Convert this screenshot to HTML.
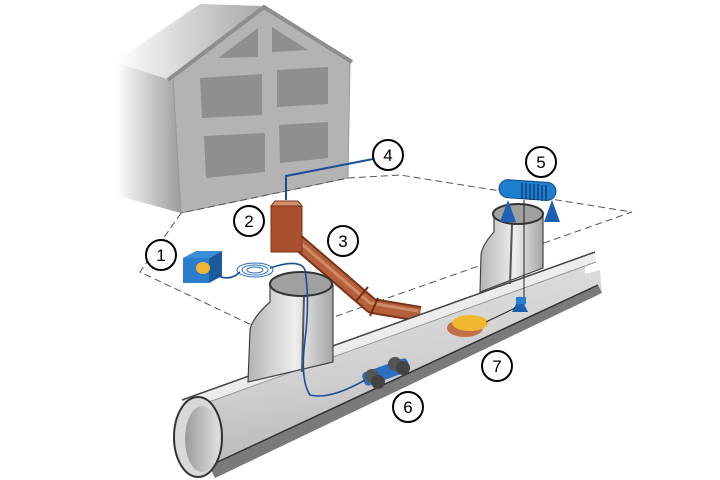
<!DOCTYPE html>
<html><head><meta charset="utf-8"><style>
html,body{margin:0;padding:0;background:#fff;width:720px;height:480px;overflow:hidden}
svg{display:block}
text{font-family:"Liberation Sans",sans-serif;font-size:17px;fill:#000}
</style></head><body>
<svg width="720" height="480" viewBox="0 0 720 480" xmlns="http://www.w3.org/2000/svg">
<defs>
<linearGradient id="side" x1="0" x2="1" y1="0" y2="0"><stop offset="0" stop-color="#fff"/><stop offset="1" stop-color="#9c9c9c"/></linearGradient>
<linearGradient id="roofL" x1="0" x2="1" y1="0" y2="0"><stop offset="0" stop-color="#fff"/><stop offset="1" stop-color="#a8a8a8"/></linearGradient>
<linearGradient id="floor" x1="0" y1="0" x2="0.25" y2="1"><stop offset="0" stop-color="#e4e4e4"/><stop offset="0.6" stop-color="#d0d0d0"/><stop offset="1" stop-color="#b4b4b4"/></linearGradient>
<linearGradient id="cyl" x1="0" x2="1"><stop offset="0" stop-color="#b5b5b5"/><stop offset="0.55" stop-color="#eeeeee"/><stop offset="1" stop-color="#a5a5a5"/></linearGradient>
<linearGradient id="end" x1="0" x2="1"><stop offset="0" stop-color="#9a9a9a"/><stop offset="1" stop-color="#e0e0e0"/></linearGradient>
</defs>
<!-- house -->
<polygon points="115,62 173,80 181,213 115,195" fill="url(#side)"/>
<polygon points="115,62 200,4 263,6 170,80" fill="url(#roofL)"/>
<polygon points="173,78 264,9 350,62 348,178 181,213" fill="#b3b3b3" stroke="#999" stroke-width="1"/>
<polyline points="168,80 264,7 352,62" fill="none" stroke="#8e8e8e" stroke-width="4"/>
<g fill="#8f8f8f">
<polygon points="200,78 262,74 262,115 202,118"/>
<polygon points="277,70 328,67 328,104 277,107"/>
<polygon points="204,136 265,133 265,172 206,178"/>
<polygon points="279,125 328,122 328,158 280,163"/>
<polygon points="218,58 258,28 258,57"/>
<polygon points="272,27 308,50 272,52"/>
</g>
<!-- dashed ground -->
<polygon points="181,213 140,272 277,337 632,212 400,175 348,178" fill="none" stroke="#555" stroke-width="1" stroke-dasharray="7,4"/>
<!-- cable 4 -->
<polyline points="286,200 286,176 373,159" fill="none" stroke="#1a4e9a" stroke-width="2"/>
<!-- copper pipe -->
<path d="M292,237 L372,306 L420,314" fill="none" stroke="#7a3318" stroke-width="16" stroke-linejoin="round"/>
<path d="M292,237 L372,306 L420,314" fill="none" stroke="#b5603a" stroke-width="12" stroke-linejoin="round"/>
<path d="M292,237 L372,306 L420,314" fill="none" stroke="#cf8a66" stroke-width="3" stroke-linejoin="round" transform="translate(-2,-3)"/>
<g stroke="#6e2c14" stroke-width="2"><line x1="356" y1="301" x2="368" y2="287"/><line x1="370" y1="316" x2="378" y2="298"/></g>
<rect x="271" y="206" width="31" height="46" fill="#a9502f" stroke="#7a3318"/>
<polygon points="271,206 302,206 298,201 275,201" fill="#d09070" stroke="#7a3318"/>
<!-- main pipe -->
<path d="M182,400 L595,252 Q584,262 585,274 L600,270 L602,292 L215,478 Z" fill="url(#floor)"/>
<polygon points="182,400 595,252 596,262 184,411" fill="#ececec"/>
<line x1="182" y1="400" x2="595" y2="252" stroke="#444" stroke-width="1.5"/>
<line x1="184" y1="411" x2="596" y2="262" stroke="#999" stroke-width="1"/>
<polygon points="209,466 598,285 602,293 215,478" fill="#7a7a7a"/>
<line x1="209" y1="466" x2="598" y2="285" stroke="#333" stroke-width="1.5"/>
<ellipse cx="198" cy="437" rx="24" ry="40" fill="#d8d8d8" stroke="#333" stroke-width="2"/>
<ellipse cx="202" cy="439" rx="17" ry="33" fill="url(#end)"/>
<!-- left manhole -->
<path d="M270,285 L270,302 Q252,318 250,330 L248,382 L333,362 L333,285 Z" fill="url(#cyl)" stroke="#444" stroke-width="1.2"/>
<line x1="304" y1="296" x2="302" y2="372" stroke="#555" stroke-width="2"/>
<ellipse cx="301" cy="284" rx="31" ry="12" fill="#a0a0a0" stroke="#333" stroke-width="2"/>
<!-- right manhole -->
<path d="M494,215 L494,232 Q482,245 481,255 L480,292 L543,268 L543,215 Z" fill="url(#cyl)" stroke="#444" stroke-width="1.2"/>
<line x1="512" y1="224" x2="510" y2="284" stroke="#555" stroke-width="2"/>
<ellipse cx="518" cy="214" rx="25" ry="10" fill="#a0a0a0" stroke="#333" stroke-width="2"/>
<!-- winch 5 -->
<polygon points="500,222 508,200 516,222" fill="#1d5fb0"/>
<polygon points="544,222 552,200 560,222" fill="#1d5fb0"/>
<rect x="499" y="181" width="57" height="18" rx="9" fill="#1e7fcf" stroke="#124c8a" transform="rotate(4 527 190)"/>
<g stroke="#0c2f5e" stroke-width="1.2"><line x1="522" y1="183" x2="522" y2="199"/><line x1="526" y1="183" x2="526" y2="199"/><line x1="530" y1="184" x2="530" y2="200"/><line x1="534" y1="184" x2="534" y2="200"/><line x1="538" y1="184" x2="538" y2="200"/><line x1="542" y1="185" x2="542" y2="201"/><line x1="546" y1="185" x2="546" y2="201"/></g>
<line x1="524" y1="200" x2="524" y2="305" stroke="#222" stroke-width="1"/>
<!-- pulley/bag 7 -->
<polygon points="512,312 520,296 528,312" fill="#1d5fb0"/>
<rect x="516" y="297" width="10" height="7" fill="#2a7fcf"/>
<ellipse cx="465" cy="328" rx="18" ry="9" fill="#c0714a"/>
<ellipse cx="470" cy="323" rx="18" ry="8" fill="#f0b830"/>
<line x1="486" y1="322" x2="515" y2="308" stroke="#222"/>
<!-- robot 6 -->
<rect x="362" y="365" width="48" height="14" rx="4" fill="#2a6fc0" transform="rotate(-20 386 372)"/>
<circle cx="372" cy="376" r="7" fill="#555"/><circle cx="378" cy="382" r="7" fill="#444"/>
<circle cx="395" cy="364" r="7" fill="#555"/><circle cx="403" cy="368" r="7" fill="#444"/>
<!-- camera unit 1 -->
<polygon points="183,258 196,251 222,251 209,258" fill="#3a8ed8"/>
<polygon points="209,258 222,251 222,276 209,283" fill="#1c5a9e"/>
<rect x="183" y="258" width="26" height="25" fill="#2b7ccc"/>
<ellipse cx="203" cy="268" rx="7" ry="6" fill="#f2b530"/>
<g fill="none" stroke="#2a6fc0" stroke-width="1"><ellipse cx="255" cy="270" rx="18" ry="7"/><ellipse cx="255" cy="270" rx="13" ry="5"/><ellipse cx="255" cy="270" rx="8" ry="3"/></g>
<path d="M216,275 Q230,282 240,272 M270,268 Q300,258 305,270 Q310,300 305,340 Q300,380 310,395 Q330,400 365,380" fill="none" stroke="#1a4e9a" stroke-width="1.6"/>
<!-- labels -->
<g fill="#fff" stroke="#000" stroke-width="2">
<circle cx="161" cy="255" r="15"/><circle cx="249" cy="221" r="15"/><circle cx="343" cy="241" r="15"/>
<circle cx="388" cy="155" r="15"/><circle cx="541" cy="162" r="15"/><circle cx="408" cy="407" r="15"/><circle cx="497" cy="366" r="15"/>
</g>
<g text-anchor="middle">
<text x="161" y="261">1</text><text x="249" y="227">2</text><text x="343" y="247">3</text>
<text x="388" y="161">4</text><text x="541" y="168">5</text><text x="408" y="413">6</text><text x="497" y="372">7</text>
</g>
</svg>
</body></html>
